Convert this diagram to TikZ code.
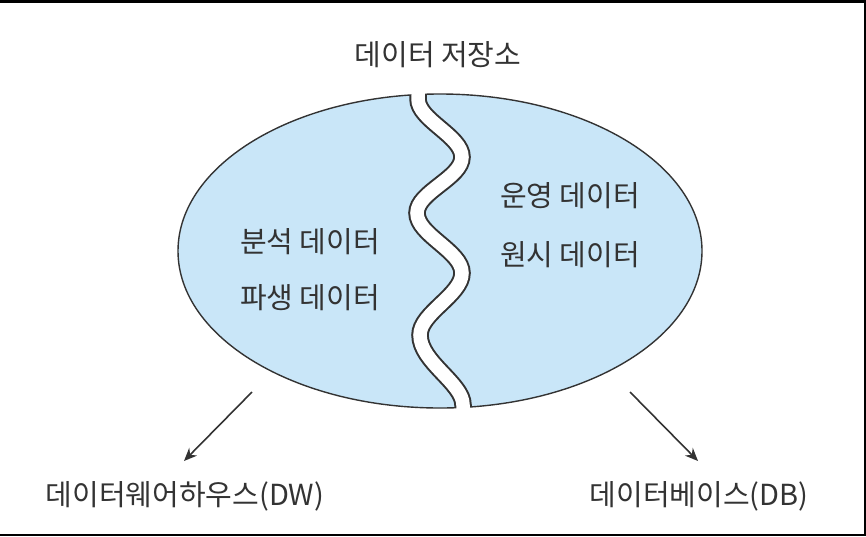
\documentclass[tikz,border=0pt]{standalone}
\usepackage{fontspec}
\newfontfamily\kr{Noto Sans CJK KR}
\usetikzlibrary{arrows.meta}
\definecolor{fillblue}{HTML}{C9E6F8}
\definecolor{ink}{HTML}{333333}
\begin{document}
\begin{tikzpicture}[x=1pt,y=-1pt,
  lbl/.style={font=\kr\fontsize{29}{34}\selectfont, text=ink, inner sep=0pt},
  arr/.style={draw=ink, line width=1.6pt, -{Stealth[length=13pt,width=11pt]}},
  outl/.style={draw=ink, line width=1.4pt}]
\useasboundingbox (0,0) rectangle (866,536);
\draw[line width=2.5pt] (0,1.25) -- (864.75,1.25) -- (864.75,534.75) -- (0,534.75);
% store
\fill[fillblue] (440,251) ellipse [x radius=262, y radius=157];
\draw[outl] (440,251) ellipse [x radius=262, y radius=157];
\begin{scope}
  \clip (440,251) ellipse [x radius=262, y radius=157];
  \draw[ink, line width=17.5pt] (418,60) -- (418,99) .. controls (418,120) and (462,136) .. (462,157) .. controls (462,178) and (417,192) .. (417,213) .. controls (417,235) and (462,251) .. (462,273) .. controls (462,295) and (420,313) .. (420,335) .. controls (420,362) and (463,383) .. (463,405) -- (463,440);
\end{scope}
\begin{scope}
  \clip (440,251) ellipse [x radius=267, y radius=162];
  \draw[white, line width=13.5pt] (418,60) -- (418,99) .. controls (418,120) and (462,136) .. (462,157) .. controls (462,178) and (417,192) .. (417,213) .. controls (417,235) and (462,251) .. (462,273) .. controls (462,295) and (420,313) .. (420,335) .. controls (420,362) and (463,383) .. (463,405) -- (463,440);
\end{scope}
\node[lbl] (title) at (438,55) {데이터 저장소};
\node[lbl] (an1) at (310,242) {분석 데이터};
\node[lbl] (an2) at (310,298) {파생 데이터};
\node[lbl] (op1) at (570,196) {운영 데이터};
\node[lbl] (op2) at (570,255) {원시 데이터};
\node[lbl] (dw) at (185,496) {데이터웨어하우스(DW)};
\node[lbl] (db) at (699,496) {데이터베이스(DB)};
\coordinate (s1) at (252,392);
\coordinate (e1) at (184,461);
\coordinate (s2) at (630,392);
\coordinate (e2) at (698,461);
\draw[arr] (s1) -- (e1);
\draw[arr] (s2) -- (e2);
\end{tikzpicture}
\end{document}
